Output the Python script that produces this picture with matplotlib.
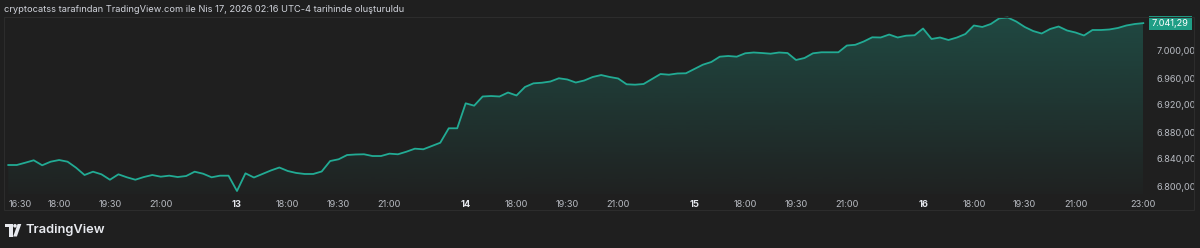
import numpy as np
import matplotlib
matplotlib.use("Agg")
import matplotlib.pyplot as plt
from matplotlib.transforms import Affine2D
from matplotlib.patches import Rectangle, Circle, Polygon

# ---------------- data (15-minute closes, 5 sessions x 27 bars) ----------------
session_12 = [6831.1, 6831.1, 6834.5, 6838.1, 6830.7, 6836.0, 6838.5, 6836.0, 6827.1,
              6816.3, 6821.2, 6817.3, 6809.3, 6817.3, 6812.9, 6809.3, 6813.3, 6816.3,
              6813.8, 6815.3, 6813.3, 6814.8, 6821.2, 6818.2, 6812.9, 6815.3, 6815.3]
session_13 = [6792.6, 6818.8, 6812.6, 6817.8, 6823.0, 6827.4, 6822.2, 6819.3, 6817.8,
              6817.8, 6821.5, 6837.0, 6839.6, 6845.9, 6846.7, 6847.0, 6844.4, 6844.4,
              6847.9, 6847.0, 6850.8, 6855.3, 6854.4, 6859.3, 6864.1, 6885.5, 6885.5]
session_14 = [6922.5, 6919.0, 6932.6, 6933.3, 6932.6, 6938.5, 6934.1, 6946.7, 6952.1,
              6953.0, 6954.8, 6959.6, 6957.8, 6953.3, 6956.3, 6961.5, 6964.4, 6961.5,
              6959.3, 6950.7, 6950.1, 6951.1, 6958.5, 6965.9, 6964.9, 6966.7, 6967.0]
session_15 = [6973.3, 6979.7, 6983.7, 6991.6, 6992.6, 6991.6, 6996.6, 6997.8, 6997.0,
              6996.0, 6997.8, 6997.0, 6986.7, 6989.6, 6996.6, 6998.1, 6998.1, 6998.1,
              7008.1, 7009.2, 7014.1, 7020.3, 7020.0, 7024.4, 7020.0, 7022.7, 7023.3]
session_16 = [7033.3, 7017.8, 7020.0, 7016.3, 7020.0, 7025.2, 7037.8, 7035.6, 7040.0,
              7048.4, 7049.6, 7043.7, 7035.6, 7029.6, 7025.9, 7032.6, 7036.3, 7030.4,
              7027.4, 7023.0, 7031.1, 7031.1, 7031.9, 7034.1, 7037.8, 7040.0, 7041.29]

tick_pos = [0, 6, 12, 18, 27, 33, 39, 45, 54, 60, 66, 72, 81, 87, 93, 99,
            108, 114, 120, 126, 134]
tick_labels = ['16:30', '18:00', '19:30', '21:00', '13', '18:00', '19:30', '21:00',
               '14', '18:00', '19:30', '21:00', '15', '18:00', '19:30', '21:00',
               '16', '18:00', '19:30', '21:00', '23:00']
day_labels = {'13', '14', '15', '16'}
y_ticks = [6800, 6840, 6880, 6920, 6960, 7000]

header = ("cryptocatss tarafından TradingView.com ile Nis 17, 2026 02:16 UTC-4 "
          "tarihinde oluşturuldu")

# ---------------- style ----------------
BG = '#1f1f1f'
LINE = '#22ab94'
TAG = '#1f9e86'
TXT = '#b8bbc2'
W, H = 1200, 248

prices = np.array(session_12 + session_13 + session_14 + session_15 + session_16)
x = np.arange(len(prices))

plt.rcParams['font.family'] = ['Inter', 'DejaVu Sans']

fig = plt.figure(figsize=(W / 100, H / 100), dpi=100, facecolor=BG)
px = Affine2D().scale(1 / W, -1 / H).translate(0, 1) + fig.transFigure

# pane: x 5..1145 px, y 16..194 px
ax = fig.add_axes([5 / W, 1 - 194 / H, 1140 / W, 178 / H], facecolor=BG)
for s in ax.spines.values():
    s.set_visible(False)

spacing = 8.47
x0_px = 8.3
xmin = (5 - x0_px) / spacing
xmax = (1145 - x0_px) / spacing
ymin = 7000 - (194 - 51) / 0.675
ymax = 7000 + (51 - 16) / 0.675

# gradient fill under the line
poly = ax.fill_between(x, prices, ymin, color='none', lw=0)
grad = np.zeros((256, 1, 4))
rgb = matplotlib.colors.to_rgb(LINE)
grad[:, 0, 0], grad[:, 0, 1], grad[:, 0, 2] = rgb
grad[:, 0, 3] = np.linspace(0.02, 0.30, 256)
top = prices.max()
im = ax.imshow(grad, extent=[x.min(), x.max(), ymin, top], origin='lower',
               aspect='auto', zorder=1)
path = poly.get_paths()[0]
im.set_clip_path(path, transform=ax.transData)

ax.plot(x, prices, color=LINE, lw=1.3, zorder=3, solid_joinstyle='round')

ax.set_xlim(xmin, xmax)
ax.set_ylim(ymin, ymax)

# y axis on right
ax.yaxis.tick_right()
ax.set_yticks(y_ticks)
ax.set_yticklabels([f"{v:,.2f}".replace(',', 'X').replace('.', ',').replace('X', '.')
                    for v in y_ticks])
ax.tick_params(axis='y', length=0, pad=8, labelsize=6.6, labelcolor=TXT)

# x axis
ax.set_xticks(tick_pos)
ax.set_xticklabels(tick_labels)
ax.tick_params(axis='x', length=0, pad=4, labelsize=6.6, labelcolor=TXT)
for lbl in ax.get_xticklabels():
    if lbl.get_text() in day_labels:
        lbl.set_fontweight('bold')
        lbl.set_color('#e6e8ee')
ax.get_xticklabels()[0].set_horizontalalignment('left')
ax.grid(False)

# last price tag
last = prices[-1]
ax.annotate(f"{last:,.2f}".replace(',', 'X').replace('.', ',').replace('X', '.'),
            xy=(1 + (1170.5 - 1145) / 1140, last), xycoords=ax.get_yaxis_transform(),
            ha='center', va='center', fontsize=6.6, color='white',
            bbox=dict(boxstyle='square,pad=0.28', fc=TAG, ec='none'),
            annotation_clip=False, zorder=5)

# frame around chart
fig.patches.append(Rectangle((4, 17), 1190, 193, transform=px, fill=False,
                             ec='#2c2c2c', lw=0.8))

# header text
fig.text(4 / W, 1 - 9 / H, header, fontsize=6.7, color='#d1d4dc', va='center', ha='left')

# TradingView logo
logo_c = '#e8eaef'
fig.patches.append(Polygon([(5, 224), (12.5, 224), (12.5, 236.5), (9.3, 236.5),
                            (9.3, 227.4), (5, 227.4)], closed=True, transform=px,
                           fc=logo_c, ec='none'))
fig.patches.append(Circle((15, 225.8), 1.8, transform=px, fc=logo_c, ec='none'))
fig.patches.append(Polygon([(13.2, 236.5), (17.6, 224), (21.3, 224), (16.9, 236.5)],
                           closed=True, transform=px, fc=logo_c, ec='none'))
fig.text(26 / W, 1 - 230.5 / H, 'TradingView', fontsize=9.3, fontweight='semibold',
         color=logo_c, va='center', ha='left')

fig.savefig('out.png', dpi=100, facecolor=BG)
